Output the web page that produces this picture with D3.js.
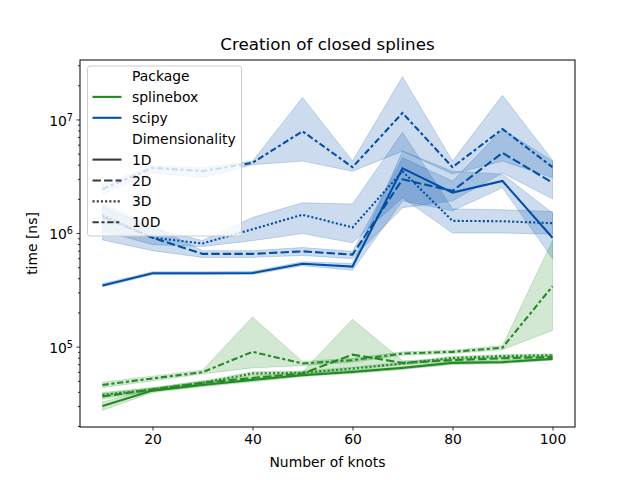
<!DOCTYPE html>
<html>
<head>
<meta charset="utf-8">
<script src="https://cdn.jsdelivr.net/npm/d3@7"></script>
<style>
  body { margin: 0; background: #fff; }
  svg { font-family: "DejaVu Sans", sans-serif; }
</style>
</head>
<body>
<svg id="chart" width="640" height="480"></svg>
<script>
// number of knots on the x axis
const knots = [10, 20, 30, 40, 50, 60, 70, 80, 90, 100];
const packages = ['splinebox', 'scipy'];
const dims = ['1D', '2D', '3D', '10D'];
const xTicks = [20, 40, 60, 80, 100];
const yTicks = [1e5, 1e6, 1e7];

// splinebox timings [ns]: mean, lower and upper of the band
const splinebox1D = [3.0e4, 4.1e4, 4.6e4, 5.1e4, 5.6e4, 6.0e4, 6.5e4, 7.2e4, 7.3e4, 7.8e4];
const splinebox1DLo = [2.75e4, 3.95e4, 4.45e4, 4.9e4, 5.45e4, 5.8e4, 6.3e4, 6.95e4, 7.1e4, 7.6e4];
const splinebox1DHi = [3.25e4, 4.25e4, 4.75e4, 5.3e4, 5.8e4, 6.2e4, 6.7e4, 7.4e4, 7.55e4, 8.0e4];
const splinebox2D = [3.64e4, 4.2e4, 4.8e4, 5.3e4, 5.8e4, 8.5e4, 7.2e4, 7.6e4, 7.9e4, 8.1e4];
const splinebox2DLo = [3.45e4, 4.05e4, 4.6e4, 5.1e4, 5.6e4, 6.5e4, 6.9e4, 7.35e4, 7.65e4, 7.85e4];
const splinebox2DHi = [3.85e4, 4.35e4, 5.0e4, 5.5e4, 6.0e4, 1.74e5, 7.5e4, 7.85e4, 8.15e4, 8.35e4];
const splinebox3D = [3.76e4, 4.2e4, 4.8e4, 5.8e4, 5.9e4, 6.4e4, 7.1e4, 7.95e4, 8.25e4, 8.4e4];
const splinebox3DLo = [3.6e4, 4.05e4, 4.65e4, 5.6e4, 5.7e4, 6.2e4, 6.9e4, 7.7e4, 8.0e4, 8.15e4];
const splinebox3DHi = [3.95e4, 4.35e4, 4.95e4, 6.0e4, 6.1e4, 6.6e4, 7.3e4, 8.2e4, 8.5e4, 8.65e4];
const splinebox10D = [4.6e4, 5.25e4, 5.95e4, 9.0e4, 7.1e4, 7.6e4, 8.7e4, 9.0e4, 9.8e4, 3.4e5];
const splinebox10DLo = [4.35e4, 5.0e4, 5.75e4, 6.5e4, 6.8e4, 7.3e4, 8.4e4, 8.7e4, 9.4e4, 1.39e5];
const splinebox10DHi = [4.85e4, 5.5e4, 6.2e4, 1.82e5, 7.4e4, 7.9e4, 9.0e4, 9.3e4, 1.02e5, 8.6e5];

// scipy timings [ns]
const scipy1D = [3.46e5, 4.43e5, 4.43e5, 4.45e5, 5.36e5, 5.07e5, 3.71e6, 2.27e6, 2.87e6, 9.1e5];
const scipy1DLo = [3.36e5, 4.3e5, 4.3e5, 4.32e5, 5.15e5, 4.7e5, 1.92e6, 1.57e6, 2.5e6, 5.96e5];
const scipy1DHi = [3.58e5, 4.57e5, 4.57e5, 4.6e5, 5.58e5, 5.4e5, 5.26e6, 3.5e6, 3.3e6, 1.5e6];
const scipy2D = [1.39e6, 9.1e5, 6.55e5, 6.55e5, 6.9e5, 6.46e5, 2.97e6, 2.35e6, 5.08e6, 2.77e6];
const scipy2DLo = [8.7e5, 7.0e5, 6.1e5, 6.1e5, 6.35e5, 5.95e5, 1.67e6, 1.92e6, 3.37e6, 2.0e6];
const scipy2DHi = [1.8e6, 1.16e6, 7.0e5, 7.0e5, 7.45e5, 6.9e5, 4.6e6, 2.87e6, 8.2e6, 4.3e6];
const scipy3D = [1.44e6, 9.1e5, 8.1e5, 1.08e6, 1.45e6, 1.12e6, 3.5e6, 1.28e6, 1.27e6, 1.22e6];
const scipy3DLo = [1.05e6, 7.9e5, 7.6e5, 8.57e5, 9.9e5, 8.2e5, 2.04e6, 1.0e6, 1.0e6, 9.8e5];
const scipy3DHi = [1.73e6, 1.1e6, 8.6e5, 1.37e6, 1.85e6, 1.8e6, 7.7e6, 1.63e6, 1.6e6, 1.55e6];
const scipy10D = [2.44e6, 3.75e6, 3.51e6, 4.15e6, 7.87e6, 3.8e6, 1.14e7, 3.8e6, 8.24e6, 3.8e6];
const scipy10DLo = [2.21e6, 3.4e6, 3.07e6, 4.0e6, 4.3e6, 3.5e6, 5.26e6, 3.31e6, 4.3e6, 3.07e6];
const scipy10DHi = [2.7e6, 3.9e6, 3.75e6, 4.3e6, 1.56e7, 4.3e6, 2.38e7, 4.3e6, 1.63e7, 4.38e6];

const colors = {splinebox: '#228b22', scipy: '#0050a8'};
const lw = 2.1;
const dashes = {
  '1D': null,
  '2D': [4, 1.5],
  '3D': [1, 1],
  '10D': [3, 1.25, 1.5, 1.25]
};
const dashArray = d => dashes[d] ? dashes[d].map(v => v * lw).join(' ') : null;

const series = [
  ['splinebox', '1D', splinebox1D, splinebox1DLo, splinebox1DHi],
  ['splinebox', '2D', splinebox2D, splinebox2DLo, splinebox2DHi],
  ['splinebox', '3D', splinebox3D, splinebox3DLo, splinebox3DHi],
  ['splinebox', '10D', splinebox10D, splinebox10DLo, splinebox10DHi],
  ['scipy', '1D', scipy1D, scipy1DLo, scipy1DHi],
  ['scipy', '2D', scipy2D, scipy2DLo, scipy2DHi],
  ['scipy', '3D', scipy3D, scipy3DLo, scipy3DHi],
  ['scipy', '10D', scipy10D, scipy10DLo, scipy10DHi]
].map(([pkg, dim, mean, lo, hi]) => ({
  pkg, dim,
  values: knots.map((k, i) => ({k, mean: mean[i], lo: lo[i], hi: hi[i]}))
}));

const margin = {left: 80, right: 575, top: 60, bottom: 427};
const svg = d3.select('#chart');

// matplotlib style 5% margins (log space for y)
const xPad = (d3.max(knots) - d3.min(knots)) * 0.05;
const x = d3.scaleLinear()
  .domain([d3.min(knots) - xPad, d3.max(knots) + xPad])
  .range([margin.left, margin.right]);

const allLo = d3.min(series, s => d3.min(s.values, v => v.lo));
const allHi = d3.max(series, s => d3.max(s.values, v => v.hi));
const lLo = Math.log10(allLo), lHi = Math.log10(allHi);
const yPad = (lHi - lLo) * 0.05;
const y = d3.scaleLog()
  .domain([Math.pow(10, lLo - yPad), Math.pow(10, lHi + yPad)])
  .range([margin.bottom, margin.top]);

svg.append('defs').append('clipPath').attr('id', 'clip')
  .append('rect')
  .attr('x', margin.left).attr('y', margin.top)
  .attr('width', margin.right - margin.left).attr('height', margin.bottom - margin.top);

const plot = svg.append('g').attr('clip-path', 'url(#clip)');

const line = d3.line().x(d => x(d.k)).y(d => y(d.mean));
const area = d3.area().x(d => x(d.k)).y0(d => y(d.lo)).y1(d => y(d.hi));

for (const s of series) {
  plot.append('path')
    .datum(s.values)
    .attr('d', line)
    .attr('fill', 'none')
    .attr('stroke', colors[s.pkg])
    .attr('stroke-width', lw)
    .attr('stroke-dasharray', dashArray(s.dim));
  plot.append('path')
    .datum(s.values)
    .attr('d', area)
    .attr('fill', colors[s.pkg])
    .attr('fill-opacity', 0.2)
    .attr('stroke', colors[s.pkg])
    .attr('stroke-opacity', 0.2)
    .attr('stroke-width', 1);
}

// axes
svg.append('g')
  .attr('transform', `translate(0,${margin.bottom})`)
  .call(d3.axisBottom(x).tickValues(xTicks).tickSize(3.5).tickPadding(3.5));

const minorTicks = [];
for (let e = 4; e <= 7; e++) {
  for (let m = 2; m <= 9; m++) {
    const v = m * Math.pow(10, e);
    if (v >= y.domain()[0] && v <= y.domain()[1]) minorTicks.push(v);
  }
}
svg.append('g')
  .attr('transform', `translate(${margin.left},0)`)
  .call(d3.axisLeft(y).tickValues(minorTicks).tickSize(2).tickFormat(''));

const yAxis = svg.append('g')
  .attr('transform', `translate(${margin.left},0)`)
  .call(d3.axisLeft(y).tickValues(yTicks).tickSize(3.5).tickPadding(3.5).tickFormat(''));

yAxis.selectAll('.tick text').each(function (d) {
  const t = d3.select(this);
  t.text('10');
  t.append('tspan')
    .attr('dy', '-0.5em')
    .attr('font-size', '9.7px')
    .text(Math.round(Math.log10(d)));
});

svg.selectAll('.domain').remove();
svg.selectAll('.tick line').attr('stroke', '#000').attr('stroke-width', 0.8);
svg.selectAll('.tick text')
  .attr('fill', '#000')
  .attr('font-size', '13.9px')
  .attr('font-family', 'DejaVu Sans');
yAxis.selectAll('.tick text').attr('dy', '0.4em');

svg.append('rect')
  .attr('x', margin.left).attr('y', margin.top)
  .attr('width', margin.right - margin.left).attr('height', margin.bottom - margin.top)
  .attr('fill', 'none')
  .attr('stroke', '#000')
  .attr('stroke-width', 1);

// titles
svg.append('text')
  .attr('x', (margin.left + margin.right) / 2).attr('y', 49.5)
  .attr('text-anchor', 'middle')
  .attr('font-size', '16.7px')
  .text('Creation of closed splines');

svg.append('text')
  .attr('x', (margin.left + margin.right) / 2).attr('y', 467)
  .attr('text-anchor', 'middle')
  .attr('font-size', '13.9px')
  .text('Number of knots');

svg.append('text')
  .attr('transform', `translate(37,${(margin.top + margin.bottom) / 2}) rotate(-90)`)
  .attr('text-anchor', 'middle')
  .attr('font-size', '13.9px')
  .text('time [ns]');

// legend
const legend = svg.append('g');
legend.append('rect')
  .attr('x', 87.5).attr('y', 66)
  .attr('width', 154).attr('height', 170)
  .attr('rx', 2.5)
  .attr('fill', '#fff')
  .attr('fill-opacity', 0.8)
  .attr('stroke', '#cccccc')
  .attr('stroke-width', 1);

const legendRows = [
  {label: 'Package'},
  {label: packages[0], color: colors.splinebox, dash: null},
  {label: packages[1], color: colors.scipy, dash: null},
  {label: 'Dimensionality'},
  ...dims.map(d => ({label: d, color: '#3a3a3a', dash: dashArray(d)}))
];

legendRows.forEach((r, i) => {
  const cy = 76 + i * 20.9;
  if (r.color) {
    legend.append('line')
      .attr('x1', 92.5).attr('x2', 121.5)
      .attr('y1', cy).attr('y2', cy)
      .attr('stroke', r.color)
      .attr('stroke-width', lw)
      .attr('stroke-dasharray', r.dash);
  }
  legend.append('text')
    .attr('x', 132)
    .attr('y', cy + 5)
    .attr('font-size', '13.9px')
    .text(r.label);
});
</script>
</body>
</html>
